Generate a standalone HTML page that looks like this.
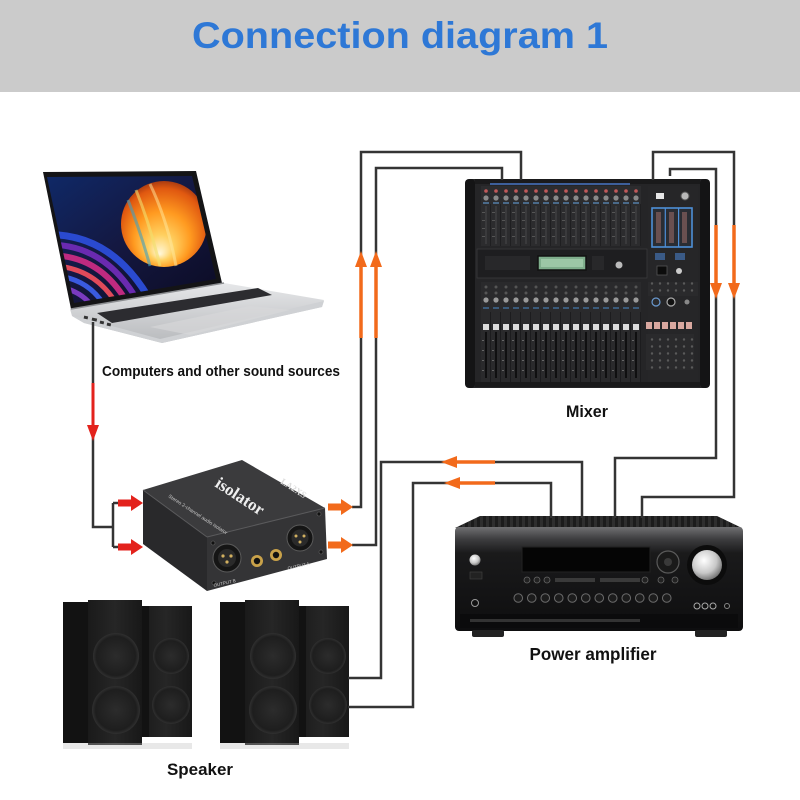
<!DOCTYPE html>
<html>
<head>
<meta charset="utf-8">
<style>
html,body{margin:0;padding:0;background:#fff;}
svg{display:block;}
</style>
</head>
<body>
<svg width="800" height="800" viewBox="0 0 800 800" xmlns="http://www.w3.org/2000/svg">
<defs>
  <linearGradient id="scrBg" x1="0" y1="0" x2="1" y2="1">
    <stop offset="0" stop-color="#0f2a6a"/>
    <stop offset="0.5" stop-color="#14173f"/>
    <stop offset="1" stop-color="#0a0a20"/>
  </linearGradient>
  <radialGradient id="sphere" cx="0.5" cy="0.55" r="0.6" fx="0.45" fy="0.85">
    <stop offset="0" stop-color="#fff8dc"/>
    <stop offset="0.25" stop-color="#ffd060"/>
    <stop offset="0.55" stop-color="#ff9a20"/>
    <stop offset="0.85" stop-color="#e05810"/>
    <stop offset="1" stop-color="#8a2a10"/>
  </radialGradient>
  <linearGradient id="silver" x1="0" y1="0" x2="0" y2="1">
    <stop offset="0" stop-color="#e6e7e9"/>
    <stop offset="1" stop-color="#b8babd"/>
  </linearGradient>
  <linearGradient id="ampFront" x1="0" y1="0" x2="0" y2="1">
    <stop offset="0" stop-color="#707072"/>
    <stop offset="0.12" stop-color="#3c3c3e"/>
    <stop offset="0.25" stop-color="#1a1a1b"/>
    <stop offset="1" stop-color="#0e0e0f"/>
  </linearGradient>
  <radialGradient id="knob" cx="0.4" cy="0.35" r="0.7">
    <stop offset="0" stop-color="#ffffff"/>
    <stop offset="0.6" stop-color="#c8c8c8"/>
    <stop offset="1" stop-color="#6a6a6a"/>
  </radialGradient>
  <linearGradient id="spk" x1="0" y1="0" x2="1" y2="0">
    <stop offset="0" stop-color="#1a1a1a"/>
    <stop offset="0.5" stop-color="#262626"/>
    <stop offset="1" stop-color="#181818"/>
  </linearGradient>
  <radialGradient id="woof" cx="0.5" cy="0.5" r="0.5">
    <stop offset="0" stop-color="#2c2c2c"/>
    <stop offset="0.85" stop-color="#1e1e1e"/>
    <stop offset="1" stop-color="#303030"/>
  </radialGradient>
  <pattern id="vent" x="0" y="0" width="6" height="4" patternUnits="userSpaceOnUse">
    <rect width="6" height="4" fill="#1c1c1c"/>
    <rect x="0" y="0" width="3" height="4" fill="#2e2e2e"/>
  </pattern>
  <pattern id="chTop" x="481" y="186" width="10" height="60" patternUnits="userSpaceOnUse">
    <rect width="10" height="60" fill="#2c2c2e"/>
    <circle cx="5" cy="5" r="1.8" fill="#c25a5a"/>
    <circle cx="5" cy="12" r="2.6" fill="#8a8a8a"/>
    <rect x="2" y="16" width="6" height="2" fill="#4a6a8a"/>
    <rect x="4.5" y="20" width="1" height="38" fill="#47474a"/>
    <rect x="1" y="26" width="3" height="1" fill="#555"/>
    <rect x="1" y="34" width="3" height="1" fill="#555"/>
    <rect x="1" y="42" width="3" height="1" fill="#555"/>
    <rect x="1" y="50" width="3" height="1" fill="#555"/>
    <rect x="9" y="18" width="1" height="42" fill="#1f1f21"/>
  </pattern>
  <pattern id="chBot" x="481" y="282" width="10" height="100" patternUnits="userSpaceOnUse">
    <rect width="10" height="100" fill="#2a2a2c"/>
    <circle cx="5" cy="5" r="1.5" fill="#555"/>
    <circle cx="5" cy="11" r="1.5" fill="#555"/>
    <circle cx="5" cy="18" r="2.6" fill="#9a9a9a"/>
    <rect x="2" y="25" width="6" height="2" fill="#3a5a7a"/>
    <rect x="2" y="42" width="6" height="6" fill="#dcdcdc"/>
    <rect x="4" y="50" width="2" height="46" fill="#0f0f10"/>
    <rect x="1" y="58" width="2" height="1" fill="#666"/>
    <rect x="1" y="68" width="2" height="1" fill="#666"/>
    <rect x="1" y="78" width="2" height="1" fill="#666"/>
    <rect x="1" y="88" width="2" height="1" fill="#666"/>
    <rect x="9" y="30" width="1" height="70" fill="#1c1c1e"/>
  </pattern>
  <pattern id="dots" x="0" y="0" width="8" height="7" patternUnits="userSpaceOnUse">
    <rect width="8" height="7" fill="#2a2a2c"/>
    <circle cx="4" cy="3.5" r="1.2" fill="#5a5a5a"/>
  </pattern>
  <pattern id="ampKnobs" x="511.5" y="590" width="13.5" height="16" patternUnits="userSpaceOnUse">
    <circle cx="6.75" cy="8" r="4.3" fill="#1c1c1c" stroke="#6a6a6a" stroke-width="1"/>
  </pattern>
  <clipPath id="disp">
    <polygon points="47,177 192,176 216,279 74,303"/>
  </clipPath>
</defs>

<!-- Header -->
<rect x="0" y="0" width="800" height="92" fill="#cbcbcb"/>
<text x="192" y="48" font-family="Liberation Sans, Arial, sans-serif" font-weight="bold" font-size="37.5" fill="#2e78d6" textLength="416" lengthAdjust="spacingAndGlyphs">Connection diagram 1</text>

<!-- ============ LAPTOP ============ -->
<polygon points="43,172 196,171 222,283 71,309" fill="#141416"/>
<g clip-path="url(#disp)">
  <rect x="40" y="170" width="190" height="140" fill="url(#scrBg)"/>
  <path d="M40,235 Q110,230 150,300" stroke="#2a4ad0" stroke-width="7" fill="none"/>
  <path d="M40,245 Q105,240 140,305" stroke="#6a2ab0" stroke-width="6" fill="none"/>
  <path d="M40,256 Q100,250 130,308" stroke="#c02a80" stroke-width="6" fill="none"/>
  <path d="M40,266 Q95,262 120,310" stroke="#e04a5a" stroke-width="5" fill="none"/>
  <path d="M40,276 Q88,272 108,312" stroke="#3a5ae0" stroke-width="5" fill="none"/>
  <path d="M40,286 Q80,284 96,312" stroke="#7a3ac0" stroke-width="5" fill="none"/>
  <circle cx="164" cy="224" r="43" fill="url(#sphere)"/>
  <path d="M128,200 Q140,230 150,266" stroke="#40a0c0" stroke-width="3" fill="none" opacity="0.6"/>
  <path d="M136,190 Q150,225 160,266" stroke="#f0e070" stroke-width="3" fill="none" opacity="0.6"/>
  <path d="M150,184 Q168,222 176,266" stroke="#ffe9a0" stroke-width="3" fill="none" opacity="0.5"/>
</g>
<!-- base -->
<polygon points="70,309 224,283 324,300 322,307 162,343 84,323 72,316" fill="url(#silver)"/>
<polygon points="72,316 84,323 162,343 322,307 324,301 160,339 86,319" fill="#cfd1d4"/>
<line x1="71" y1="309" x2="224" y2="283" stroke="#8c8e91" stroke-width="1.5"/>
<polygon points="97,313 258,288 272,295 112,323" fill="#2c2c30"/>
<polygon points="150,327 250,306 290,310 190,335" fill="#d8d9db" opacity="0.6"/>
<rect x="84" y="316" width="4" height="3" fill="#333" transform="rotate(12 86 317)"/>
<rect x="92" y="318" width="5" height="3" fill="#333" transform="rotate(12 94 319)"/>
<rect x="100" y="321" width="4" height="3" fill="#333" transform="rotate(12 102 322)"/>
<rect x="107" y="323" width="4" height="3" fill="#333" transform="rotate(12 109 324)"/>

<text x="102" y="376" font-family="Liberation Sans, Arial, sans-serif" font-weight="bold" font-size="15" fill="#111" textLength="238" lengthAdjust="spacingAndGlyphs">Computers and other sound sources</text>

<!-- ============ MIXER ============ -->
<rect x="465" y="179" width="245" height="209" rx="6" fill="#252527"/>
<rect x="465" y="179" width="10" height="209" rx="4" fill="#141415"/>
<rect x="700" y="179" width="10" height="209" rx="4" fill="#141415"/>
<rect x="475" y="179" width="225" height="5" fill="#1a1a1b"/>
<rect x="490" y="183" width="140" height="2" fill="#3d5f9a"/>
<rect x="481" y="186" width="160" height="60" fill="url(#chTop)"/>
<rect x="477" y="249" width="170" height="29" fill="#1e1e20" stroke="#3a3a3c" stroke-width="0.8"/>
<rect x="538" y="256" width="48" height="14" fill="#7fae8c" stroke="#111" stroke-width="1.5"/>
<rect x="541" y="259" width="42" height="8" fill="#9cc7a6"/>
<rect x="485" y="256" width="45" height="14" fill="#28282a"/>
<rect x="592" y="256" width="12" height="14" fill="#28282a"/>
<circle cx="619" cy="265" r="3.5" fill="#bbb"/>
<rect x="481" y="282" width="160" height="100" fill="url(#chBot)"/>
<!-- right section -->
<rect x="648" y="186" width="50" height="196" fill="#262628"/>
<rect x="656" y="193" width="8" height="6" fill="#e6e6e6"/>
<circle cx="685" cy="196" r="4" fill="#b8b8b8" stroke="#555"/>
<rect x="652" y="208" width="40" height="39" fill="#2a2d33" stroke="#4d8fd8" stroke-width="1.6"/>
<line x1="665.3" y1="208" x2="665.3" y2="247" stroke="#4d8fd8" stroke-width="1.2"/>
<line x1="678.6" y1="208" x2="678.6" y2="247" stroke="#4d8fd8" stroke-width="1.2"/>
<rect x="656" y="212" width="5" height="31" fill="#6a5050"/>
<rect x="669" y="212" width="5" height="31" fill="#6a5050"/>
<rect x="682" y="212" width="5" height="31" fill="#6a5050"/>
<rect x="655" y="253" width="10" height="7" fill="#3a5a86"/>
<rect x="675" y="253" width="10" height="7" fill="#3a5a86"/>
<rect x="657" y="266" width="10" height="9" fill="#0c0c0c" stroke="#555" stroke-width="0.8"/>
<circle cx="679" cy="271" r="3" fill="#ccc"/>
<rect x="648" y="282" width="50" height="14" fill="url(#dots)"/>
<circle cx="656" cy="302" r="4" fill="#2a2a2c" stroke="#6a9ad0" stroke-width="1.2"/>
<circle cx="671" cy="302" r="4" fill="#111" stroke="#aaa" stroke-width="1.2"/>
<circle cx="687" cy="302" r="2.5" fill="#888"/>
<rect x="646" y="322" width="6" height="7" fill="#d9a8a0"/>
<rect x="654" y="322" width="6" height="7" fill="#d9a8a0"/>
<rect x="662" y="322" width="6" height="7" fill="#d9a8a0"/>
<rect x="670" y="322" width="6" height="7" fill="#d9a8a0"/>
<rect x="678" y="322" width="6" height="7" fill="#d9a8a0"/>
<rect x="686" y="322" width="6" height="7" fill="#d9a8a0"/>
<rect x="646" y="334" width="48" height="36" fill="url(#dots)"/>
<rect x="475" y="382" width="225" height="5" fill="#1a1a1b"/>

<text x="587" y="417" text-anchor="middle" font-family="Liberation Sans, Arial, sans-serif" font-weight="bold" font-size="17" fill="#111" textLength="42" lengthAdjust="spacingAndGlyphs">Mixer</text>

<!-- ============ ISOLATOR ============ -->
<polygon points="143,490 242,460 325,508 207,537" fill="#3b3b3d"/>
<polygon points="143,490 207,537 207,591 143,544" fill="#29292b"/>
<polygon points="207,537 325,508 327,559 207,591" fill="#343436"/>
<line x1="143" y1="490" x2="207" y2="537" stroke="#5a5a5c" stroke-width="1"/>
<line x1="207" y1="537" x2="325" y2="508" stroke="#5a5a5c" stroke-width="1"/>
<text x="214" y="486" font-family="Liberation Serif, serif" font-weight="bold" font-size="17" fill="#eee" transform="rotate(33 214 486)">isolator</text>
<text x="168" y="497" font-family="Liberation Sans, sans-serif" font-size="5" fill="#ccc" transform="rotate(33 168 497)">Stereo 2-channel audio isolator</text>
<text x="280" y="483" font-family="Liberation Serif, serif" font-weight="bold" font-size="9" fill="#ddd" transform="rotate(33 280 483)">LA2XS</text>
<!-- connectors -->
<circle cx="227" cy="558" r="14" fill="#151515" stroke="#5a5a5a" stroke-width="1"/>
<circle cx="227" cy="558" r="9" fill="#2a2a2a"/>
<circle cx="223" cy="556" r="1.6" fill="#d2b060"/>
<circle cx="231" cy="556" r="1.6" fill="#d2b060"/>
<circle cx="227" cy="562" r="1.6" fill="#d2b060"/>
<circle cx="300" cy="538" r="13" fill="#151515" stroke="#5a5a5a" stroke-width="1"/>
<circle cx="300" cy="538" r="8.5" fill="#2a2a2a"/>
<circle cx="296" cy="536" r="1.5" fill="#d2b060"/>
<circle cx="304" cy="536" r="1.5" fill="#d2b060"/>
<circle cx="300" cy="542" r="1.5" fill="#d2b060"/>
<circle cx="257" cy="561" r="6" fill="#c9a24a"/>
<circle cx="257" cy="561" r="3.2" fill="#111"/>
<circle cx="276" cy="555" r="6" fill="#c9a24a"/>
<circle cx="276" cy="555" r="3.2" fill="#111"/>
<circle cx="213" cy="543" r="2" fill="#111" stroke="#666" stroke-width="0.6"/>
<circle cx="214" cy="583" r="2" fill="#111" stroke="#666" stroke-width="0.6"/>
<circle cx="319" cy="514" r="2" fill="#111" stroke="#666" stroke-width="0.6"/>
<circle cx="321" cy="552" r="2" fill="#111" stroke="#666" stroke-width="0.6"/>
<text x="214" y="587" font-family="Liberation Sans, sans-serif" font-size="4.5" fill="#ccc" transform="rotate(-13 214 587)">OUTPUT B</text>
<text x="288" y="570" font-family="Liberation Sans, sans-serif" font-size="4.5" fill="#ccc" transform="rotate(-13 288 570)">OUTPUT A</text>

<!-- ============ AMPLIFIER ============ -->
<polygon points="480,516 717,516 742,528 455,528" fill="url(#vent)"/>
<rect x="455" y="527" width="288" height="104" rx="4" fill="url(#ampFront)"/>
<rect x="460" y="614" width="278" height="14" fill="#0b0b0c"/>
<rect x="470" y="619" width="170" height="3" fill="#333"/>
<rect x="522" y="547" width="128" height="25" fill="#050505" stroke="#222" stroke-width="1"/>
<circle cx="707" cy="565" r="20" fill="#0c0c0c"/>
<circle cx="707" cy="565" r="15" fill="url(#knob)"/>
<circle cx="668" cy="562" r="11" fill="#1a1a1a" stroke="#5a5a5a" stroke-width="1.2"/>
<circle cx="668" cy="562" r="4" fill="#3a3a3a"/>
<circle cx="475" cy="560" r="5.5" fill="url(#knob)"/>
<rect x="470" y="572" width="12" height="7" fill="#222" stroke="#444" stroke-width="0.6"/>
<circle cx="527" cy="580" r="3" fill="#222" stroke="#666" stroke-width="0.8"/>
<circle cx="537" cy="580" r="3" fill="#222" stroke="#666" stroke-width="0.8"/>
<circle cx="547" cy="580" r="3" fill="#222" stroke="#666" stroke-width="0.8"/>
<rect x="555" y="578" width="40" height="4" fill="#3a3a3a"/>
<rect x="600" y="578" width="40" height="4" fill="#3a3a3a"/>
<circle cx="645" cy="580" r="3" fill="#222" stroke="#666" stroke-width="0.8"/>
<circle cx="661" cy="580" r="3" fill="#222" stroke="#666" stroke-width="0.8"/>
<circle cx="675" cy="580" r="3" fill="#222" stroke="#666" stroke-width="0.8"/>
<rect x="511.5" y="590" width="162" height="16" fill="url(#ampKnobs)"/>
<circle cx="475" cy="603" r="3.5" fill="#111" stroke="#999" stroke-width="1"/>
<circle cx="697" cy="606" r="3" fill="#111" stroke="#aaa" stroke-width="1"/>
<circle cx="705" cy="606" r="3" fill="#111" stroke="#aaa" stroke-width="1"/>
<circle cx="713" cy="606" r="3" fill="#111" stroke="#aaa" stroke-width="1"/>
<circle cx="727" cy="606" r="2.5" fill="#111" stroke="#888" stroke-width="1"/>
<rect x="472" y="630" width="32" height="7" rx="2" fill="#222"/>
<rect x="695" y="630" width="32" height="7" rx="2" fill="#222"/>

<text x="593" y="660" text-anchor="middle" font-family="Liberation Sans, Arial, sans-serif" font-weight="bold" font-size="17.5" fill="#111" textLength="127" lengthAdjust="spacingAndGlyphs">Power amplifier</text>

<!-- ============ SPEAKERS ============ -->
<g id="spkL">
  <rect x="140" y="606" width="52" height="131" fill="url(#spk)"/>
  <rect x="140" y="606" width="9" height="131" fill="#121212"/>
  <circle cx="171" cy="656" r="18" fill="url(#woof)"/>
  <circle cx="171" cy="705" r="19" fill="url(#woof)"/>
  <rect x="63" y="602" width="26" height="141" fill="#121212"/>
  <rect x="88" y="600" width="54" height="145" fill="url(#spk)"/>
  <circle cx="116" cy="656" r="23" fill="url(#woof)"/>
  <circle cx="116" cy="710" r="24" fill="url(#woof)"/>
  <rect x="63" y="743" width="129" height="6" fill="#bdbdbd" opacity="0.35"/>
</g>
<g transform="translate(157,0)">
  <rect x="140" y="606" width="52" height="131" fill="url(#spk)"/>
  <rect x="140" y="606" width="9" height="131" fill="#121212"/>
  <circle cx="171" cy="656" r="18" fill="url(#woof)"/>
  <circle cx="171" cy="705" r="19" fill="url(#woof)"/>
  <rect x="63" y="602" width="26" height="141" fill="#121212"/>
  <rect x="88" y="600" width="54" height="145" fill="url(#spk)"/>
  <circle cx="116" cy="656" r="23" fill="url(#woof)"/>
  <circle cx="116" cy="710" r="24" fill="url(#woof)"/>
  <rect x="63" y="743" width="129" height="6" fill="#bdbdbd" opacity="0.35"/>
</g>

<text x="200" y="775" text-anchor="middle" font-family="Liberation Sans, Arial, sans-serif" font-weight="bold" font-size="17" fill="#111" textLength="66" lengthAdjust="spacingAndGlyphs">Speaker</text>

<!-- ============ WIRES ============ -->
<g fill="none" stroke="#343434" stroke-width="2.5" stroke-linejoin="miter">
  <path d="M93,322 V527 H113"/>
  <path d="M113,503 V547"/>
  <path d="M113,503 H119"/>
  <path d="M113,547 H119"/>
  <path d="M352,507 H361 V152 H521 V180"/>
  <path d="M352,545 H376 V168 H502 V180"/>
  <path d="M653,180 V152 H734 V497 H642 V518"/>
  <path d="M670,176 V169 H716 V458 H615 V518"/>
  <path d="M582,518 V462 H381 V678 H348"/>
  <path d="M551,518 V483 H413 V707 H348"/>
</g>

<!-- red arrow down -->
<line x1="93" y1="383" x2="93" y2="428" stroke="#e3221c" stroke-width="3"/>
<polygon points="93,441 87,425 99,425" fill="#e3221c"/>

<!-- red block arrows -->
<polygon points="118,499.5 131,499.5 131,495 143,503 131,511 131,506.5 118,506.5" fill="#e3221c"/>
<polygon points="118,543.5 131,543.5 131,539 143,547 131,555 131,550.5 118,550.5" fill="#e3221c"/>

<!-- orange block arrows -->
<polygon points="328,503.5 341,503.5 341,499 353,507 341,515 341,510.5 328,510.5" fill="#f26a1b"/>
<polygon points="328,541.5 341,541.5 341,537 353,545 341,553 341,548.5 328,548.5" fill="#f26a1b"/>

<!-- orange up arrows -->
<line x1="361" y1="338" x2="361" y2="262" stroke="#f26a1b" stroke-width="3.5"/>
<polygon points="361,251 355,267 367,267" fill="#f26a1b"/>
<line x1="376" y1="338" x2="376" y2="262" stroke="#f26a1b" stroke-width="3.5"/>
<polygon points="376,251 370,267 382,267" fill="#f26a1b"/>

<!-- orange down arrows -->
<line x1="716" y1="225" x2="716" y2="288" stroke="#f26a1b" stroke-width="3.5"/>
<polygon points="716,299 710,283 722,283" fill="#f26a1b"/>
<line x1="734" y1="225" x2="734" y2="288" stroke="#f26a1b" stroke-width="3.5"/>
<polygon points="734,299 728,283 740,283" fill="#f26a1b"/>

<!-- orange left arrows -->
<line x1="495" y1="462" x2="452" y2="462" stroke="#f26a1b" stroke-width="3.5"/>
<polygon points="441,462 457,456 457,468" fill="#f26a1b"/>
<line x1="495" y1="483" x2="455" y2="483" stroke="#f26a1b" stroke-width="3.5"/>
<polygon points="444,483 460,477 460,489" fill="#f26a1b"/>
</svg>
</body>
</html>
